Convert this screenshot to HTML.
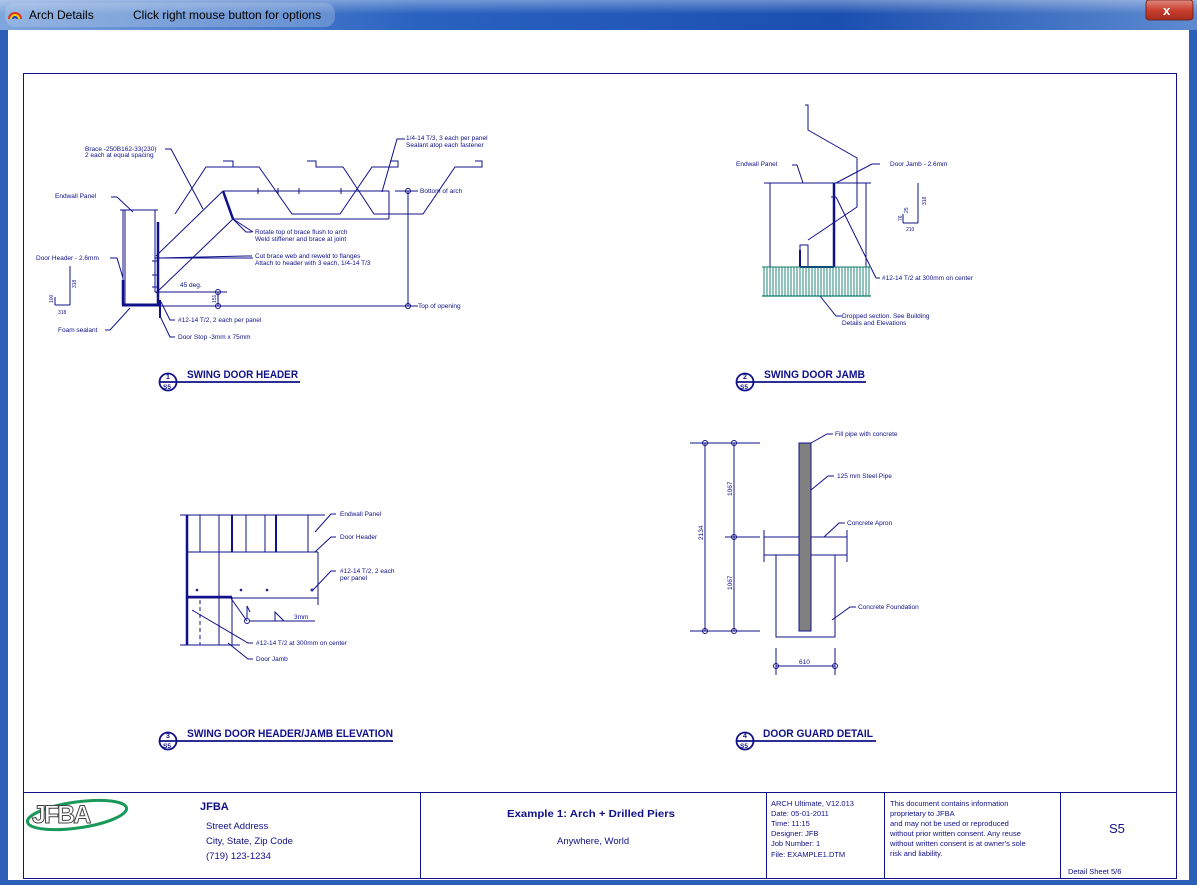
<!DOCTYPE html>
<html><head><meta charset="utf-8"><style>
html,body{margin:0;padding:0;width:1197px;height:885px;overflow:hidden;background:#3a6fc4}
svg{display:block}
text{font-family:"Liberation Sans",sans-serif;fill:#10108a}
.s{font-size:6.5px}
.t{font-size:11px;font-weight:bold}
.tb{font-size:9.5px}
</style></head><body>
<svg width="1197" height="885" viewBox="0 0 1197 885" xmlns="http://www.w3.org/2000/svg">
<defs>
<linearGradient id="tb" x1="0" y1="0" x2="1" y2="0">
<stop offset="0" stop-color="#7fa6dc"/><stop offset="0.35" stop-color="#2a62c0"/><stop offset="0.7" stop-color="#1b4fb0"/><stop offset="1" stop-color="#5d8ad0"/>
</linearGradient>
<linearGradient id="cl" x1="0" y1="0" x2="0" y2="1"><stop offset="0" stop-color="#e08a80"/><stop offset="0.5" stop-color="#c8402f"/><stop offset="1" stop-color="#a82a1c"/></linearGradient>
<linearGradient id="tg" x1="0" y1="0" x2="0" y2="1"><stop offset="0" stop-color="#ffffff" stop-opacity="0.35"/><stop offset="1" stop-color="#ffffff" stop-opacity="0"/></linearGradient>
</defs>
<rect x="0" y="0" width="1197" height="885" fill="#2c5fb8"/>
<rect x="0" y="0" width="1197" height="30" fill="url(#tb)"/>
<rect x="0" y="0" width="1197" height="14" fill="url(#tg)"/>
<rect x="5" y="3" width="330" height="24" rx="10" fill="#c8d8ee" opacity="0.3"/>
<path d="M9 19 a6 6 0 0 1 12 0" fill="none" stroke="#e03020" stroke-width="2"/>
<path d="M11 19 a4 4 0 0 1 8 0" fill="none" stroke="#f0d000" stroke-width="2"/>
<path d="M13 19 a2 2 0 0 1 4 0" fill="none" stroke="#2040c0" stroke-width="2"/>
<text x="29" y="19" style="font-size:12px;fill:#000">Arch Details</text>
<text x="133" y="19" style="font-size:12px;fill:#000">Click right mouse button for options</text>
<rect x="1146" y="0" width="47" height="20" rx="3" fill="url(#cl)" stroke="#6a1a10" stroke-width="0.8"/>
<text x="1163" y="15" style="font-size:13px;font-weight:bold;fill:#fff">x</text>
<rect x="8" y="30" width="1181" height="850" fill="#fff"/>
<g fill="none" stroke="#10108a" stroke-width="1">
<rect x="23.5" y="73.5" width="1153" height="805"/>
<line x1="23" y1="792.5" x2="1177" y2="792.5"/>
<line x1="420.5" y1="792" x2="420.5" y2="878"/>
<line x1="766.5" y1="792" x2="766.5" y2="878"/>
<line x1="884.5" y1="792" x2="884.5" y2="878"/>
<line x1="1060.5" y1="792" x2="1060.5" y2="878"/>

<polyline points="175,214 206,167 259,167 292,214 340,214 372,167 398,167 398,161 390,161"/>
<polyline points="223,161 233,161 233,167"/>
<polyline points="307,161 316,161 316,167 343,167 374,214 423,214 455,167 482,167 482,161 475,161"/>
<polyline points="165,149 171,149 203,209"/>
<polyline points="405,139 397,139 382,192"/>
<line x1="223" y1="191" x2="389" y2="191"/>
<line x1="389" y1="191" x2="389" y2="219"/>
<line x1="233" y1="219" x2="389" y2="219"/>
<line x1="223" y1="191" x2="233" y2="219" stroke-width="2.5"/>
<line x1="258" y1="188" x2="258" y2="194"/><line x1="278" y1="188" x2="278" y2="194"/><line x1="299" y1="188" x2="299" y2="194"/><line x1="341" y1="188" x2="341" y2="194"/>
<line x1="223" y1="191" x2="156" y2="256"/>
<line x1="233" y1="219" x2="156" y2="293"/>
<line x1="233" y1="219" x2="253" y2="232"/>
<line x1="395" y1="191" x2="418" y2="191"/>
<circle cx="408" cy="191" r="2.5"/>
<line x1="408" y1="191" x2="408" y2="306"/>
<line x1="158" y1="306" x2="418" y2="306"/>
<circle cx="408" cy="306" r="2.5"/>
<line x1="155" y1="292" x2="227" y2="292"/>
<circle cx="218" cy="292" r="2.5"/><circle cx="218" cy="306" r="2.5"/>
<line x1="218" y1="292" x2="218" y2="306"/>
<line x1="155" y1="258" x2="253" y2="258"/>
<line x1="152" y1="261" x2="158" y2="261"/><line x1="152" y1="275" x2="158" y2="275"/><line x1="152" y1="287" x2="158" y2="287"/>
<line x1="120" y1="210" x2="158" y2="210"/>
<line x1="123" y1="210" x2="123" y2="306"/>
<line x1="125" y1="210" x2="125" y2="305"/>
<line x1="155" y1="210" x2="155" y2="292"/>
<line x1="158" y1="222" x2="158" y2="306" stroke-width="2.5"/>
<line x1="122" y1="305" x2="158" y2="305" stroke-width="3"/>
<line x1="123" y1="280" x2="123" y2="305" stroke-width="2.5"/>
<line x1="160" y1="300" x2="160" y2="318" stroke-width="2"/>
<line x1="70" y1="266" x2="70" y2="305"/><line x1="55" y1="305" x2="70" y2="305"/><line x1="55" y1="297" x2="55" y2="305"/>
<polyline points="111,197 117,197 133,212"/>
<polyline points="110,258 117,258 123,278"/>
<polyline points="105,330 110,330 130,308"/>
<polyline points="175,320 170,320 160,300"/>
<polyline points="175,337 170,337 160,316"/>
<polyline points="252,232 246,232 233,219"/>
<polyline points="252,256 246,256 158,258"/>

<circle cx="168" cy="382" r="8.5" stroke-width="1.8"/>
<line x1="159" y1="382" x2="300" y2="382" stroke-width="1.8"/>

<line x1="764" y1="183" x2="871" y2="183"/>
<line x1="770" y1="183" x2="770" y2="267"/>
<line x1="866" y1="183" x2="866" y2="267"/>
<line x1="834" y1="183" x2="834" y2="267" stroke-width="2.5"/>
<line x1="800" y1="267" x2="834" y2="267" stroke-width="2"/>
<polyline points="800,267 800,245 808,245 808,267"/>
<line x1="800" y1="250" x2="800" y2="267" stroke-width="2"/>
<line x1="762" y1="296" x2="871" y2="296"/>
<polyline points="805,105 808,105 808,130 857,158 857,207 808,240"/>
<polyline points="880,164 872,164 836,183"/>
<polyline points="792,165 797,165 803,183"/>
<polyline points="880,278 876,278 836,197"/>
<line x1="831" y1="197" x2="836" y2="197"/>
<polyline points="842,316 836,316 820,296"/>
<line x1="918" y1="183" x2="918" y2="223"/><line x1="903" y1="223" x2="918" y2="223"/><line x1="903" y1="214" x2="903" y2="223"/>
<circle cx="745" cy="382" r="8.5" stroke-width="1.8"/>
<line x1="736" y1="382" x2="866" y2="382" stroke-width="1.8"/>

<line x1="180" y1="515" x2="325" y2="515"/>
<line x1="187" y1="515" x2="187" y2="645" stroke-width="2.5"/>
<line x1="200" y1="515" x2="200" y2="552"/>
<line x1="219" y1="515" x2="219" y2="645"/>
<line x1="232" y1="515" x2="232" y2="552" stroke-width="2"/>
<line x1="246" y1="515" x2="246" y2="552"/>
<line x1="265" y1="515" x2="265" y2="552"/>
<line x1="276" y1="515" x2="276" y2="552" stroke-width="2"/>
<line x1="308" y1="515" x2="308" y2="552"/>
<line x1="187" y1="552" x2="318" y2="552"/>
<line x1="318" y1="552" x2="318" y2="605"/>
<line x1="187" y1="598" x2="318" y2="598"/>
<line x1="187" y1="597" x2="232" y2="597" stroke-width="2.5"/>
<line x1="232" y1="597" x2="232" y2="645"/>
<line x1="200" y1="600" x2="200" y2="645" stroke-dasharray="4,3"/>
<line x1="180" y1="645" x2="240" y2="645"/>
<circle cx="197" cy="590" r="0.8"/><circle cx="241" cy="590" r="0.8"/><circle cx="267" cy="590" r="0.8"/><circle cx="312" cy="590" r="1"/>
<line x1="230" y1="597" x2="247" y2="621"/>
<circle cx="247" cy="621" r="2.5"/>
<line x1="249" y1="621" x2="315" y2="621"/>
<polyline points="247,618 247,606 250,612"/>
<polyline points="275,621 275,612 284,621"/>
<polyline points="336,514 331,514 315,532"/>
<polyline points="336,537 331,537 315,552"/>
<polyline points="336,571 331,571 313,590"/>
<polyline points="253,643 248,643 192,610"/>
<polyline points="253,659 248,659 228,643"/>
<circle cx="168" cy="741" r="8.5" stroke-width="1.8"/>
<line x1="159" y1="741" x2="393" y2="741" stroke-width="1.8"/>

<line x1="690" y1="443" x2="760" y2="443"/>
<line x1="690" y1="631" x2="760" y2="631"/>
<line x1="725" y1="537" x2="760" y2="537"/>
<line x1="705" y1="443" x2="705" y2="631"/>
<line x1="734" y1="443" x2="734" y2="631"/>
<circle cx="705" cy="443" r="2.5"/><circle cx="734" cy="443" r="2.5"/><circle cx="705" cy="631" r="2.5"/><circle cx="734" cy="631" r="2.5"/><circle cx="734" cy="537" r="2.5"/>
<line x1="764" y1="537" x2="847" y2="537"/>
<line x1="764" y1="555" x2="847" y2="555"/>
<line x1="764" y1="530" x2="764" y2="562"/>
<line x1="847" y1="530" x2="847" y2="562"/>
<polyline points="776,555 776,637 835,637 835,555"/>
<rect x="799" y="443" width="12" height="188" fill="#808080"/>
<line x1="776" y1="648" x2="776" y2="675"/><line x1="835" y1="648" x2="835" y2="675"/>
<line x1="776" y1="666" x2="835" y2="666"/>
<circle cx="776" cy="666" r="2.5"/><circle cx="835" cy="666" r="2.5"/>
<polyline points="833,434 827,434 811,443"/>
<polyline points="834,476 828,476 811,490"/>
<polyline points="845,523 839,523 824,537"/>
<polyline points="856,607 850,607 832,620"/>
<circle cx="745" cy="741" r="8.5" stroke-width="1.8"/>
<line x1="736" y1="741" x2="876" y2="741" stroke-width="1.8"/>
</g>
<g stroke="#0a7a6a" stroke-width="0.9">
<line x1="762" y1="267" x2="871" y2="267"/>
<line x1="762" y1="296" x2="871" y2="296" stroke-width="1.2"/>
<line x1="764" y1="267" x2="764" y2="296"/><line x1="767" y1="267" x2="767" y2="296"/><line x1="770" y1="267" x2="770" y2="296"/><line x1="773" y1="267" x2="773" y2="296"/><line x1="776" y1="267" x2="776" y2="296"/><line x1="779" y1="267" x2="779" y2="296"/><line x1="782" y1="267" x2="782" y2="296"/><line x1="785" y1="267" x2="785" y2="296"/><line x1="788" y1="267" x2="788" y2="296"/><line x1="791" y1="267" x2="791" y2="296"/><line x1="794" y1="267" x2="794" y2="296"/><line x1="797" y1="267" x2="797" y2="296"/><line x1="800" y1="267" x2="800" y2="296"/><line x1="803" y1="267" x2="803" y2="296"/><line x1="806" y1="267" x2="806" y2="296"/><line x1="809" y1="267" x2="809" y2="296"/><line x1="812" y1="267" x2="812" y2="296"/><line x1="815" y1="267" x2="815" y2="296"/><line x1="818" y1="267" x2="818" y2="296"/><line x1="821" y1="267" x2="821" y2="296"/><line x1="824" y1="267" x2="824" y2="296"/><line x1="827" y1="267" x2="827" y2="296"/><line x1="830" y1="267" x2="830" y2="296"/><line x1="833" y1="267" x2="833" y2="296"/><line x1="836" y1="267" x2="836" y2="296"/><line x1="839" y1="267" x2="839" y2="296"/><line x1="842" y1="267" x2="842" y2="296"/><line x1="845" y1="267" x2="845" y2="296"/><line x1="848" y1="267" x2="848" y2="296"/><line x1="851" y1="267" x2="851" y2="296"/><line x1="854" y1="267" x2="854" y2="296"/><line x1="857" y1="267" x2="857" y2="296"/><line x1="860" y1="267" x2="860" y2="296"/><line x1="863" y1="267" x2="863" y2="296"/><line x1="866" y1="267" x2="866" y2="296"/><line x1="869" y1="267" x2="869" y2="296"/>
</g>

<text class="s" x="85" y="151">Brace -250B162-33(230)</text>
<text class="s" x="85" y="157">2 each at equal spacing</text>
<text class="s" x="406" y="140">1/4-14 T/3, 3 each per panel</text>
<text class="s" x="406" y="147">Sealant atop each fastener</text>
<text class="s" x="55" y="198">Endwall Panel</text>
<text class="s" x="36" y="260">Door Header - 2.6mm</text>
<text class="s" x="58" y="332">Foam sealant</text>
<text class="s" x="255" y="234">Rotate top of brace flush to arch</text>
<text class="s" x="255" y="241">Weld stiffener and brace at joint</text>
<text class="s" x="255" y="258">Cut brace web and reweld to flanges</text>
<text class="s" x="255" y="265">Attach to header with 3 each, 1/4-14 T/3</text>
<text class="s" x="180" y="287">45 deg.</text>
<text class="s" x="178" y="322">#12-14 T/2, 2 each per panel</text>
<text class="s" x="178" y="339">Door Stop -3mm x 75mm</text>
<text class="s" x="420" y="193">Bottom of arch</text>
<text class="s" x="418" y="308">Top of opening</text>
<text style="font-size:5px" x="58" y="314">318</text>
<text style="font-size:5px" transform="translate(53,303) rotate(-90)">100</text>
<text style="font-size:5px" transform="translate(76,288) rotate(-90)">318</text>
<text style="font-size:5px" transform="translate(216,303) rotate(-90)">151</text>
<text class="t" x="187" y="378" textLength="111" lengthAdjust="spacingAndGlyphs">SWING DOOR HEADER</text>
<text style="font-size:7px;font-weight:bold" x="166" y="379">1</text>
<text style="font-size:6.5px;font-weight:bold" x="163" y="389">S5</text>

<text class="s" x="736" y="166">Endwall Panel</text>
<text class="s" x="890" y="166">Door Jamb - 2.6mm</text>
<text class="s" x="882" y="280">#12-14 T/2 at 300mm on center</text>
<text class="s" x="842" y="318">Dropped section. See Building</text>
<text class="s" x="842" y="325">Details and Elevations</text>
<text style="font-size:5px" x="906" y="231">210</text>
<text style="font-size:5px" transform="translate(902,221) rotate(-90)">76</text>
<text style="font-size:5px" transform="translate(908,213) rotate(-90)">25</text>
<text style="font-size:5px" transform="translate(926,205) rotate(-90)">318</text>
<text class="t" x="764" y="378" textLength="101" lengthAdjust="spacingAndGlyphs">SWING DOOR JAMB</text>
<text style="font-size:7px;font-weight:bold" x="743" y="379">2</text>
<text style="font-size:6.5px;font-weight:bold" x="740" y="389">S5</text>

<text class="s" x="340" y="516">Endwall Panel</text>
<text class="s" x="340" y="539">Door Header</text>
<text class="s" x="340" y="573">#12-14 T/2, 2 each</text>
<text class="s" x="340" y="580">per panel</text>
<text class="s" x="294" y="619">3mm</text>
<text class="s" x="256" y="645">#12-14 T/2 at 300mm on center</text>
<text class="s" x="256" y="661">Door Jamb</text>
<text class="t" x="187" y="737" textLength="206" lengthAdjust="spacingAndGlyphs">SWING DOOR HEADER/JAMB ELEVATION</text>
<text style="font-size:7px;font-weight:bold" x="166" y="738">3</text>
<text style="font-size:6.5px;font-weight:bold" x="163" y="748">S5</text>

<text class="s" x="835" y="436">Fill pipe with concrete</text>
<text class="s" x="837" y="478">125 mm Steel Pipe</text>
<text class="s" x="847" y="525">Concrete Apron</text>
<text class="s" x="858" y="609">Concrete Foundation</text>
<text class="s" x="799" y="664">610</text>
<text class="s" transform="translate(703,540) rotate(-90)">2134</text>
<text class="s" transform="translate(732,496) rotate(-90)">1067</text>
<text class="s" transform="translate(732,590) rotate(-90)">1067</text>
<text class="t" x="763" y="737" textLength="110" lengthAdjust="spacingAndGlyphs">DOOR GUARD DETAIL</text>
<text style="font-size:7px;font-weight:bold" x="743" y="738">4</text>
<text style="font-size:6.5px;font-weight:bold" x="740" y="748">S5</text>

<ellipse cx="77" cy="815" rx="50" ry="13" fill="none" stroke="#1a9a5a" stroke-width="3" transform="rotate(-8 77 815)"/>
<text x="32" y="823" style="font-size:25px;font-weight:bold;fill:#fff;stroke:#444;stroke-width:1;letter-spacing:-2px">JFBA</text>
<text x="200" y="810" style="font-size:11px;font-weight:bold">JFBA</text>
<text class="tb" x="206" y="829">Street Address</text>
<text class="tb" x="206" y="844">City, State, Zip Code</text>
<text class="tb" x="206" y="859">(719) 123-1234</text>
<text x="507" y="817" style="font-size:10.5px;font-weight:bold" textLength="168" lengthAdjust="spacingAndGlyphs">Example 1:  Arch + Drilled Piers</text>
<text class="tb" x="557" y="844">Anywhere, World</text>
<g style="font-size:7.5px">
<text x="771" y="806">ARCH Ultimate, V12.013</text>
<text x="771" y="816">Date: 05-01-2011</text>
<text x="771" y="826">Time: 11:15</text>
<text x="771" y="836">Designer: JFB</text>
<text x="771" y="846">Job Number: 1</text>
<text x="771" y="857">File: EXAMPLE1.DTM</text>
<text x="890" y="806">This document contains information</text>
<text x="890" y="816">proprietary to JFBA</text>
<text x="890" y="826">and may not be used or reproduced</text>
<text x="890" y="836">without prior written consent. Any reuse</text>
<text x="890" y="846">without written consent is at owner's sole</text>
<text x="890" y="856">risk and liability.</text>
<text x="1068" y="874">Detail Sheet 5/6</text>
</g>
<text x="1109" y="833" style="font-size:13px">S5</text>
</svg>
</body></html>
